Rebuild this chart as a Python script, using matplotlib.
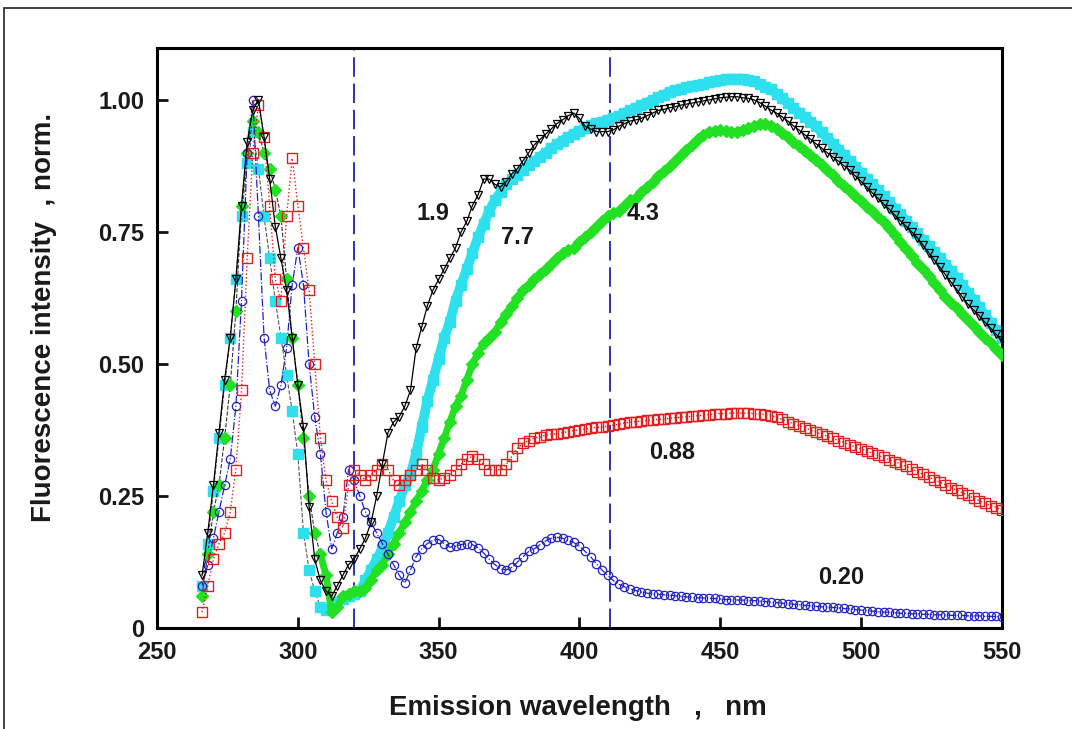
# -*- coding: utf-8 -*-
"""
Normalized fluorescence emission spectra, redrawn from the figure.
"""

import matplotlib
matplotlib.use("Agg")
import matplotlib.pyplot as plt
from matplotlib.patches import Rectangle

# wavelength grid of the read-off points, nm
wavelength = list(range(266, 551, 2))

# series (label value -> curve)
black_19 = [
    0.10, 0.18, 0.27, 0.37, 0.47, 0.55, 0.66, 0.80, 0.92, 0.98,
    1.00, 0.93, 0.85, 0.76, 0.70, 0.64, 0.55, 0.46, 0.38, 0.23,
    0.13, 0.09, 0.07, 0.06, 0.08, 0.10, 0.12, 0.13, 0.15, 0.17,
    0.20, 0.25, 0.31, 0.37, 0.39, 0.40, 0.42, 0.45, 0.53, 0.57,
    0.61, 0.64, 0.66, 0.68, 0.70, 0.72, 0.75, 0.77, 0.80, 0.82,
    0.85, 0.85, 0.84, 0.835, 0.845, 0.86, 0.87, 0.885, 0.90, 0.915,
    0.925, 0.935, 0.945, 0.955, 0.962, 0.97, 0.975, 0.965, 0.95, 0.945,
    0.94, 0.94, 0.94, 0.943, 0.95, 0.955, 0.96, 0.962, 0.965, 0.97,
    0.975, 0.98, 0.982, 0.985, 0.987, 0.99, 0.992, 0.994, 0.996, 0.998,
    1.0, 1.002, 1.004, 1.005, 1.006, 1.006, 1.004, 1.003, 1.0, 0.995,
    0.988, 0.981, 0.975, 0.968, 0.96, 0.951, 0.943, 0.934, 0.926, 0.917,
    0.909, 0.90, 0.892, 0.884, 0.875, 0.867, 0.856, 0.846, 0.835, 0.824,
    0.814, 0.803, 0.793, 0.782, 0.771, 0.761, 0.75, 0.739, 0.725, 0.711,
    0.697, 0.683, 0.669, 0.655, 0.641, 0.627, 0.613, 0.602, 0.591, 0.579,
    0.568, 0.556, 0.545,
]

cyan_77 = [
    0.08, 0.16, 0.26, 0.36, 0.46, 0.55, 0.66, 0.78, 0.88, 0.94,
    0.87, 0.78, 0.70, 0.62, 0.55, 0.48, 0.41, 0.33, 0.18, 0.11,
    0.07, 0.04, 0.035, 0.04, 0.05, 0.055, 0.06, 0.065, 0.07, 0.09,
    0.11, 0.13, 0.15, 0.18, 0.21, 0.24, 0.27, 0.29, 0.33, 0.38,
    0.43, 0.47, 0.51, 0.55, 0.58, 0.62, 0.65, 0.68, 0.71, 0.74,
    0.765, 0.79, 0.81, 0.825, 0.84, 0.85, 0.858, 0.868, 0.876, 0.884,
    0.892, 0.90, 0.908, 0.916, 0.923, 0.93, 0.936, 0.942, 0.947, 0.952,
    0.956, 0.959, 0.962, 0.966, 0.97, 0.975, 0.98, 0.985, 0.99, 0.995,
    1.0, 1.005, 1.01, 1.015, 1.018, 1.021, 1.024, 1.026, 1.028, 1.03,
    1.033, 1.036, 1.038, 1.04, 1.04, 1.04, 1.04, 1.038, 1.035, 1.03,
    1.025, 1.02, 1.012, 1.003, 0.994, 0.985, 0.976, 0.968, 0.959, 0.95,
    0.939, 0.928, 0.917, 0.906, 0.895, 0.884, 0.873, 0.862, 0.851, 0.84,
    0.829, 0.818, 0.806, 0.794, 0.783, 0.771, 0.759, 0.747, 0.735, 0.724,
    0.712, 0.70, 0.688, 0.676, 0.663, 0.649, 0.635, 0.621, 0.607, 0.593,
    0.578, 0.564, 0.55,
]

green_43 = [
    0.06, 0.14, 0.22, 0.27, 0.36, 0.46, 0.60, 0.80, 0.90, 0.96,
    0.94, 0.90, 0.87, 0.83, 0.78, 0.66, 0.55, 0.46, 0.36, 0.25,
    0.18, 0.14, 0.10, 0.03, 0.04, 0.06, 0.065, 0.07, 0.07, 0.075,
    0.09, 0.11, 0.12, 0.14, 0.16, 0.18, 0.20, 0.22, 0.24, 0.26,
    0.28, 0.30, 0.33, 0.36, 0.39, 0.42, 0.44, 0.47, 0.50, 0.52,
    0.54, 0.55, 0.56, 0.58, 0.595, 0.61, 0.625, 0.64, 0.65, 0.66,
    0.67, 0.68, 0.69, 0.70, 0.71, 0.715, 0.72, 0.73, 0.74, 0.75,
    0.76, 0.77, 0.78, 0.785, 0.79, 0.80, 0.81, 0.815, 0.825, 0.835,
    0.845, 0.855, 0.865, 0.875, 0.885, 0.895, 0.905, 0.915, 0.925, 0.933,
    0.94, 0.942, 0.943, 0.942, 0.94, 0.94, 0.943, 0.947, 0.951, 0.954,
    0.955, 0.95, 0.945, 0.937, 0.93, 0.921, 0.913, 0.904, 0.895, 0.886,
    0.876, 0.867, 0.857, 0.847, 0.837, 0.828, 0.818, 0.808, 0.798, 0.789,
    0.779, 0.769, 0.757, 0.744, 0.731, 0.718, 0.705, 0.692, 0.679, 0.666,
    0.653, 0.64, 0.627, 0.616, 0.605, 0.594, 0.583, 0.572, 0.561, 0.55,
    0.539, 0.528, 0.517,
]

red_088 = [
    0.03, 0.08, 0.13, 0.16, 0.18, 0.22, 0.30, 0.45, 0.70, 0.90,
    0.99, 0.93, 0.80, 0.66, 0.62, 0.78, 0.89, 0.80, 0.72, 0.64,
    0.50, 0.36, 0.28, 0.24, 0.21, 0.19, 0.27, 0.30, 0.29, 0.28,
    0.29, 0.30, 0.31, 0.30, 0.28, 0.27, 0.28, 0.29, 0.30, 0.31,
    0.30, 0.285, 0.28, 0.285, 0.29, 0.30, 0.31, 0.32, 0.325, 0.32,
    0.31, 0.30, 0.30, 0.30, 0.31, 0.325, 0.34, 0.35, 0.355, 0.36,
    0.362, 0.365, 0.367, 0.368, 0.37, 0.372, 0.374, 0.375, 0.377, 0.378,
    0.38, 0.381, 0.382, 0.384, 0.386, 0.388, 0.39, 0.391, 0.392, 0.393,
    0.394, 0.395, 0.396, 0.397, 0.398, 0.399, 0.40, 0.401, 0.402, 0.403,
    0.404, 0.405, 0.406, 0.406, 0.407, 0.407, 0.407, 0.407, 0.406, 0.405,
    0.404, 0.402, 0.399, 0.395, 0.391, 0.387, 0.383, 0.379, 0.375, 0.371,
    0.367, 0.363, 0.359, 0.355, 0.351, 0.347, 0.343, 0.339, 0.335, 0.331,
    0.327, 0.323, 0.319, 0.315, 0.311, 0.306, 0.301, 0.296, 0.291, 0.286,
    0.281, 0.276, 0.271, 0.266, 0.261, 0.256, 0.251, 0.246, 0.241, 0.236,
    0.232, 0.228, 0.224,
]

blue_020 = [
    0.08, 0.12, 0.17, 0.22, 0.27, 0.32, 0.42, 0.62, 0.90, 1.00,
    0.78, 0.55, 0.45, 0.42, 0.46, 0.53, 0.65, 0.72, 0.65, 0.50,
    0.40, 0.33, 0.22, 0.15, 0.18, 0.21, 0.30, 0.28, 0.25, 0.22,
    0.20, 0.18, 0.16, 0.14, 0.12, 0.10, 0.085, 0.11, 0.135, 0.15,
    0.16, 0.166, 0.168, 0.16, 0.153, 0.155, 0.158, 0.16, 0.158, 0.152,
    0.142, 0.13, 0.12, 0.112, 0.11, 0.115, 0.125, 0.135, 0.145, 0.15,
    0.158, 0.165, 0.17, 0.172, 0.17, 0.166, 0.162, 0.155, 0.145, 0.135,
    0.122, 0.11, 0.10, 0.09, 0.083, 0.078, 0.074, 0.071, 0.068, 0.066,
    0.065, 0.064, 0.063, 0.062, 0.061, 0.06, 0.059, 0.058, 0.057, 0.057,
    0.056, 0.056, 0.055, 0.054, 0.054, 0.053, 0.053, 0.052, 0.052, 0.051,
    0.05, 0.049, 0.048, 0.047, 0.046, 0.045, 0.044, 0.043, 0.042, 0.041,
    0.04, 0.04, 0.039, 0.038, 0.037, 0.036, 0.035, 0.034, 0.033, 0.032,
    0.031, 0.03, 0.03, 0.029, 0.028, 0.028, 0.027, 0.027, 0.026, 0.026,
    0.025, 0.025, 0.025, 0.024, 0.024, 0.024, 0.023, 0.023, 0.023, 0.022,
    0.022, 0.022, 0.021,
]

# curve labels: text, wavelength, intensity
labels = [("1.9", 348, 0.785), ("7.7", 378, 0.74), ("4.3", 422.5, 0.785),
          ("0.88", 433, 0.333), ("0.20", 493, 0.095)]

# marker wavelengths drawn as dashed lines
marks_nm = [320, 411]

xticks = [250, 300, 350, 400, 450, 500, 550]
yticks = [0, 0.25, 0.50, 0.75, 1.00]
ytick_labels = ["0", "0.25", "0.50", "0.75", "1.00"]

FONT = ["Liberation Sans", "DejaVu Sans"]
CYAN = "#2ee0ee"
GREEN = "#22e022"
BAND_FROM = 308  # nm; beyond this the dense markers merge into a band


def make_plot():
    fig = plt.figure(figsize=(10.72, 7.29), dpi=100)
    ax = fig.add_axes([0.1465, 0.1385, 0.788, 0.7955])

    # outer frame of the original figure
    fig.patches.append(Rectangle((4 / 1072, -0.02), 1.2, 1.02 - 8 / 729,
                                 transform=fig.transFigure, fill=False,
                                 lw=1.3, ec="#333333"))

    i0 = wavelength.index(BAND_FROM)

    # cyan and green: filled markers, thin dashed line in the peak part,
    # thick band where the dense markers merge
    ax.plot(wavelength[:i0 + 1], cyan_77[:i0 + 1], ls="--", lw=0.8,
            color="#555555", zorder=2)
    ax.plot(wavelength[i0:], cyan_77[i0:], ls="-", lw=7, color=CYAN,
            zorder=2, solid_capstyle="butt")
    ax.plot(wavelength, cyan_77, ls="none",
            marker="s", ms=7, mfc=CYAN, mec=CYAN, zorder=2)
    ax.plot(wavelength[:i0 + 1], green_43[:i0 + 1], ls="--", lw=0.8,
            color="#333333", zorder=3)
    ax.plot(wavelength[i0:], green_43[i0:], ls="-", lw=5, color=GREEN,
            zorder=3)
    ax.plot(wavelength, green_43, ls="none",
            marker="D", ms=6, mfc=GREEN, mec=GREEN, zorder=3)
    ax.plot(wavelength, blue_020, ls="-.", lw=0.9, color="#2222c0",
            marker="o", ms=6, mfc="none", mec="#2222c0", mew=0.9, zorder=4)
    ax.plot(wavelength, red_088, ls=":", lw=1.0, color="#e02020",
            marker="s", ms=7, mfc="none", mec="#e02020", mew=1.0, zorder=5)
    ax.plot(wavelength, black_19, ls="-", lw=0.9, color="black",
            marker="v", ms=6, mfc="none", mec="black", mew=0.9, zorder=6)

    for x in marks_nm:
        ax.axvline(x, color="#2a36a8", lw=1.4, dashes=(10, 3.5), zorder=1)

    for txt, x, y in labels:
        ax.text(x, y, txt, fontsize=17, fontweight="bold", family=FONT,
                ha="center", va="center", color="#1a1a1a", zorder=7)

    ax.set_xlim(250, 550)
    ax.set_ylim(0, 1.098)
    ax.set_xticks(xticks)
    ax.set_yticks(yticks)
    ax.set_yticklabels(ytick_labels)

    for s in ax.spines.values():
        s.set_linewidth(2.2)
    ax.tick_params(direction="in", length=8, width=2, labelsize=17,
                   top=False, right=False, color="#111111")
    ax.tick_params(axis="x", pad=9)
    ax.tick_params(axis="y", pad=9)
    for lab in ax.get_xticklabels() + ax.get_yticklabels():
        lab.set_fontweight("bold")
        lab.set_family(FONT)
        lab.set_color("#1a1a1a")

    ax.set_xlabel("Emission wavelength   ,   nm", fontsize=20,
                  fontweight="bold", family=FONT, color="#1a1a1a")
    ax.set_ylabel("Fluorescence intensity  , norm.", fontsize=20,
                  fontweight="bold", family=FONT, color="#1a1a1a")
    ax.xaxis.set_label_coords(0.498, -0.115)
    ax.yaxis.set_label_coords(-0.118, 0.535)

    fig.savefig("out.png", dpi=100)


if __name__ == "__main__":
    make_plot()
